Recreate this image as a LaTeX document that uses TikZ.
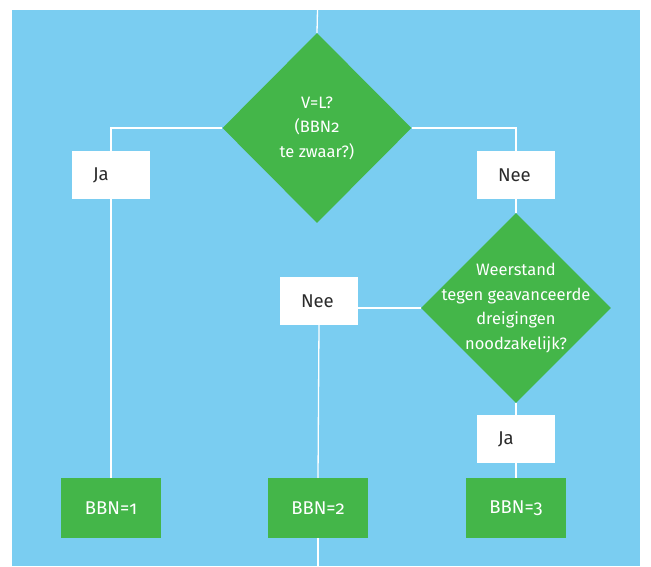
\documentclass[tikz,border=0pt]{standalone}
\usepackage{fontspec}
\setmainfont{Fira Sans}[Numbers=OldStyle]
\usetikzlibrary{shapes.geometric}
\definecolor{bgblue}{HTML}{7ACDF1}
\definecolor{dgreen}{HTML}{44B649}
\definecolor{txtgray}{HTML}{2B2B2B}
\begin{document}
\begin{tikzpicture}[x=1pt,y=-1pt,
  dia/.style={shape=diamond,fill=dgreen,draw=none,minimum width=#1,minimum height=190,inner sep=0pt},
  diatext/.style={text=white,align=center,font=\fontsize{16.5}{24.5}\selectfont},
  ansbox/.style={fill=white,draw=none,minimum height=48,text width=36,inner xsep=21,inner ysep=0pt,align=left,text=txtgray,font=\fontsize{18.5}{20}\selectfont},
  resbox/.style={fill=dgreen,draw=none,minimum width=100,minimum height=60,inner sep=0pt,text=white,font=\fontsize{18.5}{20}\selectfont},
  conn/.style={draw=white,line width=1.3pt}]
\useasboundingbox (0,0) rectangle (651,566);
\fill[bgblue] (12,10) rectangle (640,566);
% nodes
\coordinate (top) at (317.5,10);
\coordinate (bottom) at (318,566);
\node[dia=189] (d1) at (317,128) {};
\node[diatext] (d1t) at (d1.center) {V=L?\\(BBN2\\te zwaar?)};
\node[dia=190] (d2) at (516,308) {};
\node[diatext] (d2t) at (d2.center) {Weerstand\\tegen geavanceerde\\dreigingen\\noodzakelijk?};
\node[ansbox] (ja1) at (111,175) {Ja};
\node[ansbox] (nee1) at (516,175) {Nee};
\node[ansbox] (nee2) at (319,301) {Nee};
\node[ansbox] (ja2) at (516,439) {Ja};
\node[resbox] (b1) at (111,508) {BBN=1};
\node[resbox] (b2) at (318,508) {BBN=2};
\node[resbox] (b3) at (516,508) {BBN=3};
% connectors
\draw[conn] (top) -- (d1.north);
\draw[conn] (d1.west) -| (ja1.north);
\draw[conn] (ja1.south) -- (b1.north);
\draw[conn] (d1.east) -| (nee1.north);
\draw[conn] (nee1.south) -- (d2.north);
\draw[conn] (d2.west) -- (d2.west -| nee2.east);
\draw[conn] (nee2.south) -- (b2.north);
\draw[conn] (b2.south) -- (bottom);
\draw[conn] (d2.south) -- (ja2.north);
\draw[conn] (ja2.south) -- (b3.north);
\end{tikzpicture}
\end{document}
